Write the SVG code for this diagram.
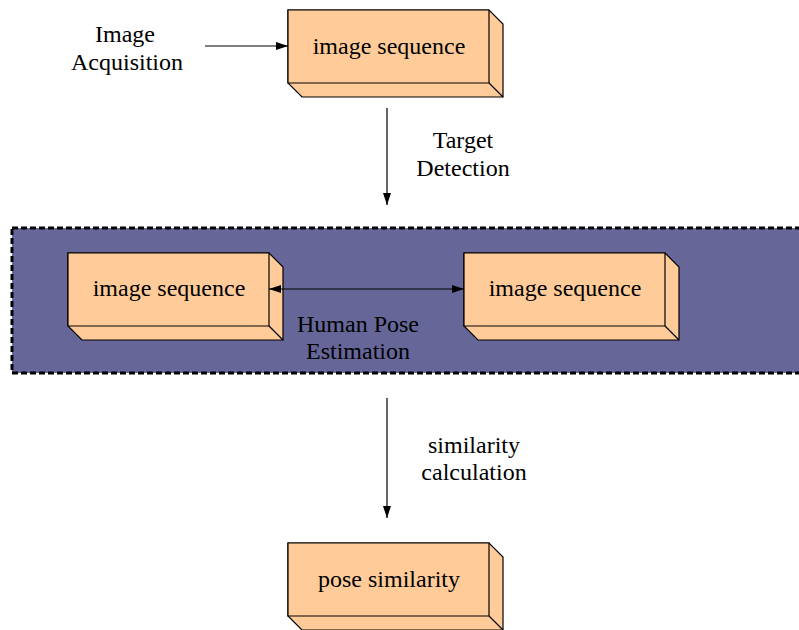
<svg xmlns="http://www.w3.org/2000/svg" width="799" height="630" viewBox="0 0 799 630">
<defs>
<style>
.box{fill:#FFCC99;stroke:#000;stroke-width:1.2;stroke-linejoin:miter}
.t{font-family:"Liberation Serif","Times New Roman",serif;font-size:24px;fill:#000;text-anchor:middle}
.c{stroke:#000;stroke-width:1.2;fill:none}
</style>
<marker id="ah" markerWidth="12" markerHeight="8" refX="12" refY="4" orient="auto-start-reverse" markerUnits="userSpaceOnUse">
<path d="M0,0 L12,4 L0,8 Z" fill="#000"/>
</marker>
<symbol id="b3d" overflow="visible">
<path class="box" d="M0,0 H201 L215,14 V87 H14 L0,73 Z"/>
<path class="box" d="M0,0 H201 V73 H0 Z"/>
<path class="c" d="M201,73 L215,87"/>
</symbol>
</defs>
<rect id="group" x="12" y="228" width="790" height="145" fill="#666699" stroke="#000" stroke-width="3" stroke-dasharray="6,3"/>
<g id="n1"><use href="#b3d" x="288" y="10"/><text class="t" x="389" y="54">image sequence</text></g>
<g id="n2"><use href="#b3d" x="68" y="253"/><text class="t" x="169" y="296">image sequence</text></g>
<g id="n3"><use href="#b3d" x="464" y="253"/><text class="t" x="565" y="296">image sequence</text></g>
<g id="n4"><use href="#b3d" x="288" y="543"/><text class="t" x="389" y="587">pose similarity</text></g>
<g id="connectors">
<line class="c" x1="205" y1="46" x2="288" y2="46" marker-end="url(#ah)"/>
<line class="c" x1="387" y1="108" x2="387" y2="205" marker-end="url(#ah)"/>
<line class="c" x1="269" y1="289" x2="464" y2="289" marker-start="url(#ah)" marker-end="url(#ah)"/>
<line class="c" x1="387" y1="398" x2="387" y2="518" marker-end="url(#ah)"/>
</g>
<g id="labels">
<text class="t" x="125" y="42">Image</text>
<text class="t" x="127" y="70">Acquisition</text>
<text class="t" x="463" y="148">Target</text>
<text class="t" x="463" y="176">Detection</text>
<text class="t" x="358" y="332">Human Pose</text>
<text class="t" x="358" y="359">Estimation</text>
<text class="t" x="474" y="453">similarity</text>
<text class="t" x="474" y="480">calculation</text>
</g>
</svg>
